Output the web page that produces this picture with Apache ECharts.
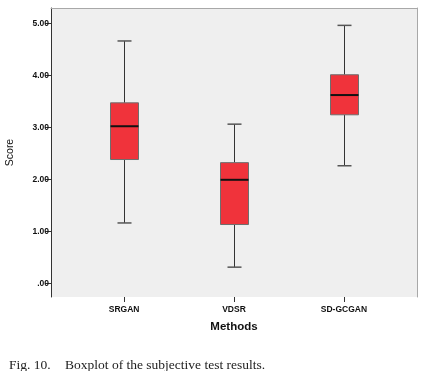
<!DOCTYPE html>
<html>
<head>
<meta charset="utf-8">
<script src="https://cdn.jsdelivr.net/npm/echarts@6/dist/echarts.min.js"></script>
<style>
html,body{margin:0;padding:0;background:#fff;}
#c{width:430px;height:371px;}
</style>
</head>
<body>
<div id="c"></div>
<script>
const categories = ['SRGAN', 'VDSR', 'SD-GCGAN'];
const whiskerLow = [1.16, 0.31, 2.26];
const q1 = [2.38, 1.13, 3.24];
const median = [3.02, 1.99, 3.62];
const q3 = [3.47, 2.32, 4.01];
const whiskerHigh = [4.66, 3.06, 4.96];
const yTickValues = [0, 1, 2, 3, 4, 5];
const yTickLabels = ['.00', '1.00', '2.00', '3.00', '4.00', '5.00'];
const categoryPositions = [1, 2, 3];

const data = categories.map((c, i) => [categoryPositions[i], whiskerLow[i], q1[i], median[i], q3[i], whiskerHigh[i]]);

const chart = echarts.init(document.getElementById('c'), null, {renderer: 'canvas'});

const BOX_W = 28, CAP_W = 14;

function renderItem(params, api) {
  const x = api.value(0);
  const pLow = api.coord([x, api.value(1)]);
  const pQ1 = api.coord([x, api.value(2)]);
  const pMed = api.coord([x, api.value(3)]);
  const pQ3 = api.coord([x, api.value(4)]);
  const pHigh = api.coord([x, api.value(5)]);
  const cx = Math.round(pMed[0]) + 0.5;
  return {
    type: 'group',
    children: [
      {type: 'line', shape: {x1: cx, y1: pHigh[1], x2: cx, y2: pQ3[1]}, style: {stroke: '#333', lineWidth: 1}},
      {type: 'line', shape: {x1: cx, y1: pQ1[1], x2: cx, y2: pLow[1]}, style: {stroke: '#333', lineWidth: 1}},
      {type: 'line', shape: {x1: cx - CAP_W / 2, y1: pHigh[1], x2: cx + CAP_W / 2, y2: pHigh[1]}, style: {stroke: '#555', lineWidth: 1.5}},
      {type: 'line', shape: {x1: cx - CAP_W / 2, y1: pLow[1], x2: cx + CAP_W / 2, y2: pLow[1]}, style: {stroke: '#555', lineWidth: 1.5}},
      {type: 'rect', shape: {x: cx - BOX_W / 2, y: pQ3[1], width: BOX_W, height: pQ1[1] - pQ3[1]}, style: {fill: '#F0333B', stroke: '#6e6e6e', lineWidth: 1}},
      {type: 'line', shape: {x1: cx - BOX_W / 2, y1: pMed[1], x2: cx + BOX_W / 2, y2: pMed[1]}, style: {stroke: '#111', lineWidth: 2}}
    ]
  };
}

const option = {
  animation: false,
  title: [
    {text: 'Fig. 10.', left: 4, top: 353, textStyle: {fontFamily: 'Liberation Serif', fontSize: 13.5, fontWeight: 'normal', color: '#222'}},
    {text: 'Boxplot of the subjective test results.', left: 60, top: 353, textStyle: {fontFamily: 'Liberation Serif', fontSize: 13.5, fontWeight: 'normal', color: '#222'}}
  ],
  grid: {left: 51, top: 8, width: 366, height: 289, show: true, backgroundColor: '#efefef', borderWidth: 0, containLabel: false, outerBoundsMode: 'none'},
  xAxis: [
    {
      type: 'value', min: 0.335, max: 3.665,
      axisLine: {show: false, onZero: false},
      splitLine: {show: false},
      axisTick: {show: true, customValues: categoryPositions, length: 5, lineStyle: {color: '#333'}},
      axisLabel: {
        customValues: categoryPositions,
        formatter: v => categories[Math.round(v) - 1],
        fontFamily: 'Liberation Sans', fontWeight: 'bold', fontSize: 8.5, color: '#111', margin: 8
      },
      name: 'Methods', nameLocation: 'middle', nameGap: 24,
      nameTextStyle: {fontFamily: 'Liberation Sans', fontWeight: 'bold', fontSize: 11.5, color: '#111'}
    },
    {
      type: 'value', min: 0.335, max: 3.665, position: 'top',
      axisLine: {show: true, onZero: false, lineStyle: {color: '#a8a8a8', width: 1}},
      axisTick: {show: false}, axisLabel: {show: false}, splitLine: {show: false}
    }
  ],
  yAxis: [
    {
      type: 'value', min: -0.264, max: 5.294,
      axisLine: {show: true, onZero: false, lineStyle: {color: '#333', width: 1}},
      splitLine: {show: false},
      axisTick: {show: true, customValues: yTickValues, length: 6, lineStyle: {color: '#333'}},
      axisLabel: {
        customValues: yTickValues,
        formatter: v => yTickLabels[yTickValues.indexOf(Math.round(v))],
        fontFamily: 'Liberation Sans', fontWeight: 'bold', fontSize: 8.5, color: '#111', margin: 2
      },
      name: 'Score', nameLocation: 'middle', nameRotate: 90, nameGap: 35,
      nameTextStyle: {fontFamily: 'Liberation Sans', fontSize: 10.5, color: '#111'}
    },
    {
      type: 'value', min: -0.264, max: 5.294, position: 'right',
      axisLine: {show: true, onZero: false, lineStyle: {color: '#a8a8a8', width: 1}},
      axisTick: {show: false}, axisLabel: {show: false}, splitLine: {show: false}
    }
  ],
  series: [{
    type: 'custom',
    renderItem: renderItem,
    xAxisIndex: 0, yAxisIndex: 0,
    encode: {x: 0, y: [1, 2, 3, 4, 5]},
    data: data
  }]
};
chart.setOption(option);
</script>
</body>
</html>
